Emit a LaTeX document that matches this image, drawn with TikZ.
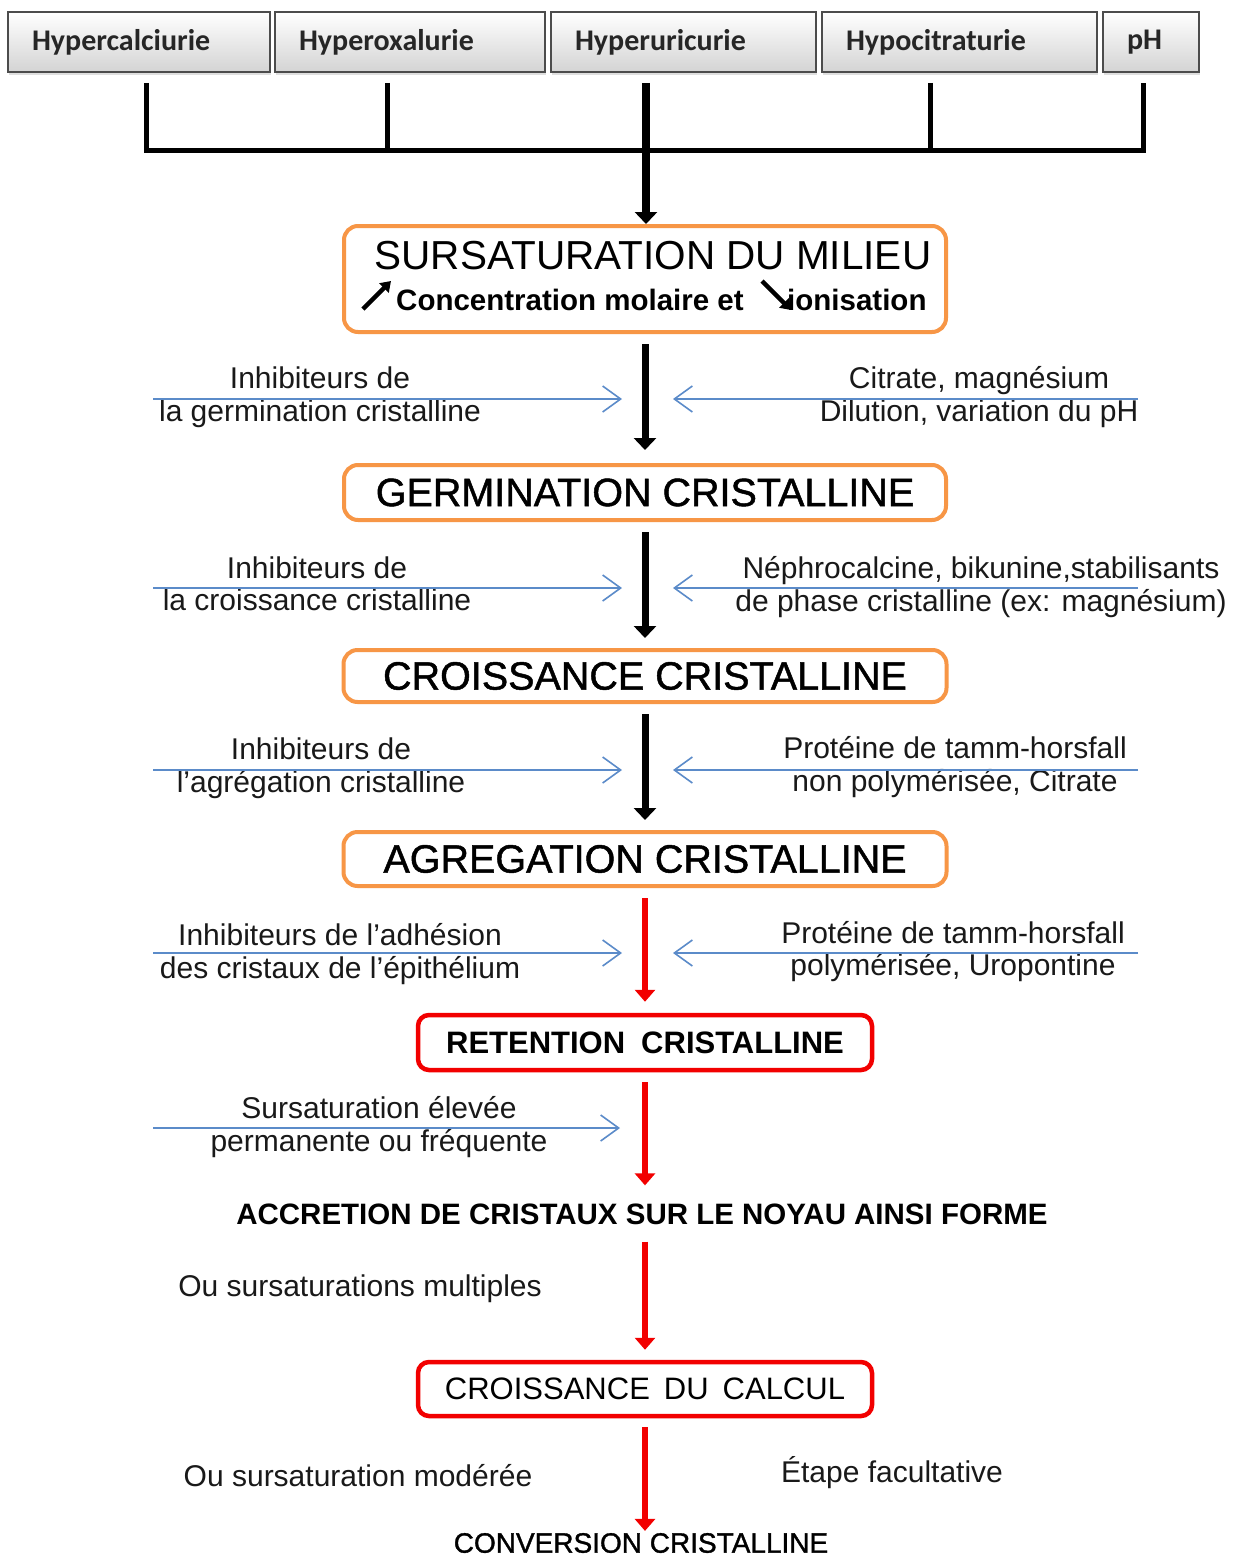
\documentclass[tikz,border=0pt]{standalone}
\usepackage{fontspec}
\setmainfont{Liberation Sans}
\newfontfamily\carlito{Carlito}
\newfontfamily\fbold[FakeBold=1.2]{Liberation Sans}
\usetikzlibrary{arrows.meta,calc,shadows}
\definecolor{orng}{HTML}{F79646}
\definecolor{blu}{HTML}{5B8BC9}
\definecolor{rd}{HTML}{F20000}
\begin{document}
\begin{tikzpicture}[x=1pt,y=-1pt,
  topbox/.style={draw=black!70, line width=1.8pt, top color=white, bottom color=black!17,
    minimum height=60pt, inner xsep=24pt, inner ysep=0pt, align=left,
    font=\carlito\bfseries\fontsize{30}{36}\selectfont, text=black!85,
    drop shadow={opacity=0.25, shadow xshift=1pt, shadow yshift=-3pt}},
  obox/.style={draw=orng, line width=4pt, rounded corners=14pt, fill=white, inner sep=0pt,
    font=\fbold\fontsize{39.5}{44}\selectfont},
  rbox/.style={draw=rd, line width=4.5pt, rounded corners=11pt, fill=white, inner sep=0pt},
  bracket/.style={line width=5pt, black},
  blackarrow/.style={line width=7pt, black, -{Triangle[length=12pt,width=22pt]}},
  redarrow/.style={line width=5.5pt, rd, -{Triangle[length=12pt,width=20pt]}},
  bluearrow/.style={line width=1.6pt, blu, -{Straight Barb[length=18pt,width=26pt]}},
  lab/.style={font=\fontsize{30}{32.5}\selectfont, align=center, inner sep=0pt, text=black!90},
  symarrow/.style={line width=4.5pt, black, -{Triangle[length=10pt,width=13pt]}},
]
\path[use as bounding box, clip] (0,0) rectangle (1234,1558);
\fill[white] (0,0) rectangle (1234,1558);

% top boxes
\node[topbox, minimum width=262pt, text width=214pt] (h1) at (139,42) {Hypercalciurie};
\node[topbox, minimum width=270pt, text width=222pt] (h2) at (410,42) {Hyperoxalurie};
\node[topbox, minimum width=265pt, text width=217pt] (h3) at (683.5,42) {Hyperuricurie};
\node[topbox, minimum width=275pt, text width=227pt] (h4) at (959.5,42) {Hypocitraturie};
\node[topbox, minimum width=96pt, text width=48pt] (h5) at (1151,42) {pH};

% bracket
\coordinate (k1) at (146,150);
\coordinate (k2) at (387,150);
\coordinate (k3) at (646,150);
\coordinate (k4) at (930,150);
\coordinate (k5) at (1143,150);
\draw[bracket] ($(h1.south -| k1)+(0,10)$) -- (k1) -- (k5) -- ($(h5.south -| k5)+(0,10)$);
\draw[bracket] ($(h2.south -| k2)+(0,10)$) -- (k2);
\draw[bracket] ($(h4.south -| k4)+(0,10)$) -- (k4);

% main boxes
\node[obox, minimum width=602pt, minimum height=106pt] (sursat) at (645,279) {};
\node[font=\fontsize{40.5}{44}\selectfont, inner sep=0pt] (t1) at (653,255.5) {SURSATURATION DU MILIEU};
\node[font=\bfseries\fontsize{29.5}{34}\selectfont, anchor=base west, inner sep=0pt] (t2) at (396,310) {Concentration molaire et};
\node[font=\bfseries\fontsize{29.5}{34}\selectfont, anchor=base west, inner sep=0pt] (t3) at (787,310) {ionisation};
\coordinate (u1) at (363,309);
\coordinate (u2) at (391,281);
\draw[symarrow] (u1) -- (u2);
\coordinate (d1) at (762,281);
\coordinate (d2) at (791,310);
\draw[symarrow] (d1) -- (d2);

\draw[blackarrow, line width=8pt] ($(h3.south -| k3)+(0,10)$) -- (sursat.north -| k3);

\node[obox, minimum width=602pt, minimum height=55pt] (germ) at (645,492.5) {GERMINATION CRISTALLINE};
\node[obox, minimum width=603pt, minimum height=52pt] (crois) at (645,676) {CROISSANCE CRISTALLINE};
\node[obox, minimum width=603pt, minimum height=54pt] (agreg) at (645,859) {AGREGATION CRISTALLINE};
\node[rbox, minimum width=454pt, minimum height=55pt, font=\bfseries\fontsize{31}{36}\selectfont] (ret) at (645,1042.5) {RETENTION\hspace{16pt}CRISTALLINE};
\node[font=\bfseries\fontsize{29.5}{34}\selectfont, inner sep=0pt] (acc) at (642,1214) {ACCRETION DE CRISTAUX SUR LE NOYAU AINSI FORME};
\node[rbox, minimum width=454pt, minimum height=54pt, font=\fontsize{31}{36}\selectfont] (calc) at (645,1389) {CROISSANCE\hspace{14pt}DU\hspace{14pt}CALCUL};
\node[font=\fbold\fontsize{28}{34}\selectfont, inner sep=0pt] (conv) at (641,1543) {CONVERSION CRISTALLINE};

% vertical arrows
\draw[blackarrow, shorten <=10pt, shorten >=13pt] (sursat) -- (germ);
\draw[blackarrow, shorten <=10pt, shorten >=10pt] (germ) -- (crois);
\draw[blackarrow, shorten <=10pt, shorten >=10pt] (crois) -- (agreg);
\draw[redarrow, shorten <=10pt, shorten >=11pt] (agreg) -- (ret);
\draw[redarrow, shorten <=10pt, shorten >=18pt] (ret.south) -- (ret.south |- acc.north);
\draw[redarrow, shorten <=17pt, shorten >=10pt] (calc.north |- acc.south) -- (calc.north);
\draw[redarrow, shorten <=9pt, shorten >=2pt] (calc.south) -- (calc.south |- conv.north);

% side labels
\node[lab] (l1) at (320,397) {Inhibiteurs de\\la germination cristalline};
\node[lab] (r1) at (979,397) {Citrate, magnésium\\Dilution, variation du pH};
\node[lab] (l2) at (317,584) {Inhibiteurs de\\la croissance cristalline};
\node[lab] (r2) at (981,587) {Néphrocalcine, bikunine,stabilisants\\de phase cristalline (ex: magnésium)};
\node[lab] (l3) at (321,768) {Inhibiteurs de\\l'agrégation cristalline};
\node[lab] (r3) at (955,767) {Protéine de tamm-horsfall\\non polymérisée, Citrate};
\node[lab] (l4) at (340,954) {Inhibiteurs de l'adhésion\\des cristaux de l'épithélium};
\node[lab] (r4) at (953,951.5) {Protéine de tamm-horsfall\\polymérisée, Uropontine};
\node[lab] (l5) at (379,1127) {Sursaturation élevée\\permanente ou fréquente};
\node[lab] (l6) at (360,1289) {Ou sursaturations multiples};
\node[lab] (l7) at (358,1476) {Ou sursaturation modérée};
\node[lab] (r7) at (892,1473) {Étape facultative};

% blue arrows
\coordinate (bl1a) at (153,399);  \coordinate (bl1b) at (622,399);
\coordinate (br1a) at (1138,399); \coordinate (br1b) at (673,399);
\coordinate (bl2a) at (153,588);  \coordinate (bl2b) at (622,588);
\coordinate (br2a) at (1138,588); \coordinate (br2b) at (673,588);
\coordinate (bl3a) at (153,770);  \coordinate (bl3b) at (622,770);
\coordinate (br3a) at (1138,770); \coordinate (br3b) at (673,770);
\coordinate (bl4a) at (153,953);  \coordinate (bl4b) at (622,953);
\coordinate (br4a) at (1138,953); \coordinate (br4b) at (673,953);
\coordinate (bl5a) at (153,1128); \coordinate (bl5b) at (620,1128);
\draw[bluearrow] (bl1a) -- (bl1b);
\draw[bluearrow] (br1a) -- (br1b);
\draw[bluearrow] (bl2a) -- (bl2b);
\draw[bluearrow] (br2a) -- (br2b);
\draw[bluearrow] (bl3a) -- (bl3b);
\draw[bluearrow] (br3a) -- (br3b);
\draw[bluearrow] (bl4a) -- (bl4b);
\draw[bluearrow] (br4a) -- (br4b);
\draw[bluearrow] (bl5a) -- (bl5b);
\end{tikzpicture}
\end{document}
